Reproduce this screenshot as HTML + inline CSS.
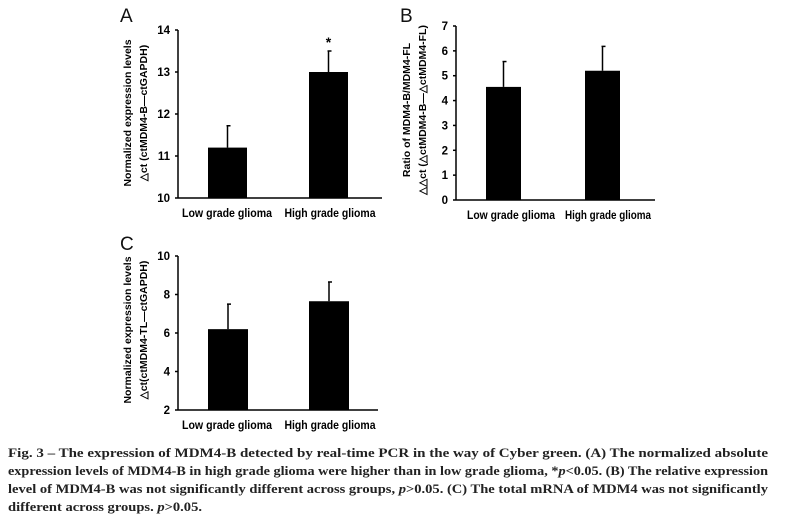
<!DOCTYPE html>
<html><head><meta charset="utf-8"><style>
body{margin:0;background:#fff;}
svg{display:block;font-family:"Liberation Sans",Arial,sans-serif;}
.cap{font-family:"Liberation Serif",serif;font-weight:bold;font-size:13px;fill:#222;}
</style></head><body>
<svg id="fig" width="796" height="523" viewBox="0 0 796 523" xmlns="http://www.w3.org/2000/svg">
<g>
<text class="cap" x="8" y="457" textLength="760" lengthAdjust="spacingAndGlyphs">Fig. 3 – The expression of MDM4-B detected by real-time PCR in the way of Cyber green. (A) The normalized absolute</text>
<text class="cap" x="8" y="475" textLength="760" lengthAdjust="spacingAndGlyphs">expression levels of MDM4-B in high grade glioma were higher than in low grade glioma, *<tspan font-style="italic">p</tspan>&lt;0.05. (B) The relative expression</text>
<text class="cap" x="8" y="493" textLength="760" lengthAdjust="spacingAndGlyphs">level of MDM4-B was not significantly different across groups, <tspan font-style="italic">p</tspan>&gt;0.05. (C) The total mRNA of MDM4 was not significantly</text>
<text class="cap" x="8" y="511" textLength="194" lengthAdjust="spacingAndGlyphs">different across groups. <tspan font-style="italic">p</tspan>&gt;0.05.</text>
</g>
</svg>
<script>
const categories = ["Low grade glioma", "High grade glioma"];
const valuesA = [11.2, 13.0];
const errorsA = [11.72, 13.5];
const ticksA = [10, 11, 12, 13, 14];
const valuesB = [4.55, 5.2];
const errorsB = [5.57, 6.18];
const ticksB = [0, 1, 2, 3, 4, 5, 6, 7];
const valuesC = [6.2, 7.65];
const errorsC = [7.5, 8.65];
const ticksC = [2, 4, 6, 8, 10];

const NS = "http://www.w3.org/2000/svg";
const svg = document.getElementById("fig");
function mk(tag, attrs, parent, text) {
  const e = document.createElementNS(NS, tag);
  for (const k in attrs) e.setAttribute(k, attrs[k]);
  if (text !== undefined) e.textContent = text;
  parent.appendChild(e);
  return e;
}
function panel(id, cfg, vals, errs, ticks) {
  const g = mk("g", {}, svg);
  
  
  const ymin = ticks[0], ymax = ticks[ticks.length - 1];
  const y = v => cfg.bottom - (v - ymin) / (ymax - ymin) * (cfg.bottom - cfg.top);
  const lbl = mk("text", {x: cfg.lx, y: cfg.ly, "font-size": 19, fill: "#111"}, g, id);
  
  
  const ax = mk("line", {x1: cfg.ax, y1: cfg.top, x2: cfg.ax, y2: cfg.bottom, stroke: "#000", "stroke-width": 1.5}, g);
  
  
  const xa = mk("line", {x1: cfg.ax, y1: cfg.bottom, x2: cfg.xend, y2: cfg.bottom, stroke: "#000", "stroke-width": 1.5}, g);
  
  
  ticks.forEach(t => {
    const ty = y(t);
    mk("line", {x1: cfg.ax - 3, y1: ty, x2: cfg.ax, y2: ty, stroke: "#000", "stroke-width": 1.5}, g);
    const tl = mk("text", {x: cfg.ax - 8, y: ty + 4, "font-size": 11.5, "font-weight": "bold", "text-anchor": "end"}, g, String(t));
    
    
  });
  vals.forEach((v, i) => {
    const x0 = cfg.bx[i], w = cfg.bw, cx = x0 + w / 2;
    const eb = mk("line", {x1: cx, y1: y(v), x2: cx, y2: y(errs[i]), stroke: "#000", "stroke-width": 1.5}, g);
    
    
    mk("line", {x1: cx - 1, y1: y(errs[i]), x2: cx + 3, y2: y(errs[i]), stroke: "#000", "stroke-width": 1.5}, g);
    const r = mk("rect", {x: x0, y: y(v), width: w, height: cfg.bottom - y(v), fill: "#000"}, g);
    
    
    const xl = mk("text", {x: cfg.cx[i] - cfg.lw[i] / 2, y: cfg.bottom + 19, "font-size": 11.5, "font-weight": "bold", textLength: cfg.lw[i], lengthAdjust: "spacingAndGlyphs"}, g, categories[i]);
    
    
    if (cfg.star && cfg.star[i]) {
      const s = mk("text", {x: cx, y: y(errs[i]) - 4, "font-size": 14, "font-weight": "bold", "text-anchor": "middle"}, g, "*");
      
      
    }
  });
  const ty = mk("text", {transform: `translate(${cfg.tx},${cfg.tcy}) rotate(-90)`, "font-size": 10.5, "font-weight": "bold", "text-anchor": "middle"}, g);
  
  
  mk("tspan", {x: 0, y: 0}, ty, cfg.t1);
  mk("tspan", {x: 0, y: 16}, ty, cfg.t2);
}
panel("A", {lx: 120, ly: 22, ax: 178, top: 30, bottom: 198, xend: 382, bx: [208, 309], bw: 39, cx: [227, 330], lw: [90, 91], star: [false, true],
  tx: 131, tcy: 113, t1: "Normalized expression levels", t2: "\u25B3ct (ctMDM4-B\u2014ctGAPDH)"}, valuesA, errorsA, ticksA);
panel("B", {lx: 400, ly: 22, ax: 456, top: 26, bottom: 200, xend: 655, bx: [486, 585], bw: 35, cx: [511, 608], lw: [88, 86],
  tx: 410, tcy: 110, t1: "Ratio of  MDM4-B/MDM4-FL", t2: "\u25B3\u25B3ct (\u25B3ctMDM4-B\u2014\u25B3ctMDM4-FL)"}, valuesB, errorsB, ticksB);
panel("C", {lx: 120, ly: 250, ax: 178, top: 256, bottom: 410, xend: 378, bx: [208, 309], bw: 40, cx: [227, 330], lw: [90, 91],
  tx: 131, tcy: 330, t1: "Normalized expression levels", t2: "\u25B3ct(ctMDM4-TL\u2014ctGAPDH)"}, valuesC, errorsC, ticksC);
</script>
</body></html>
